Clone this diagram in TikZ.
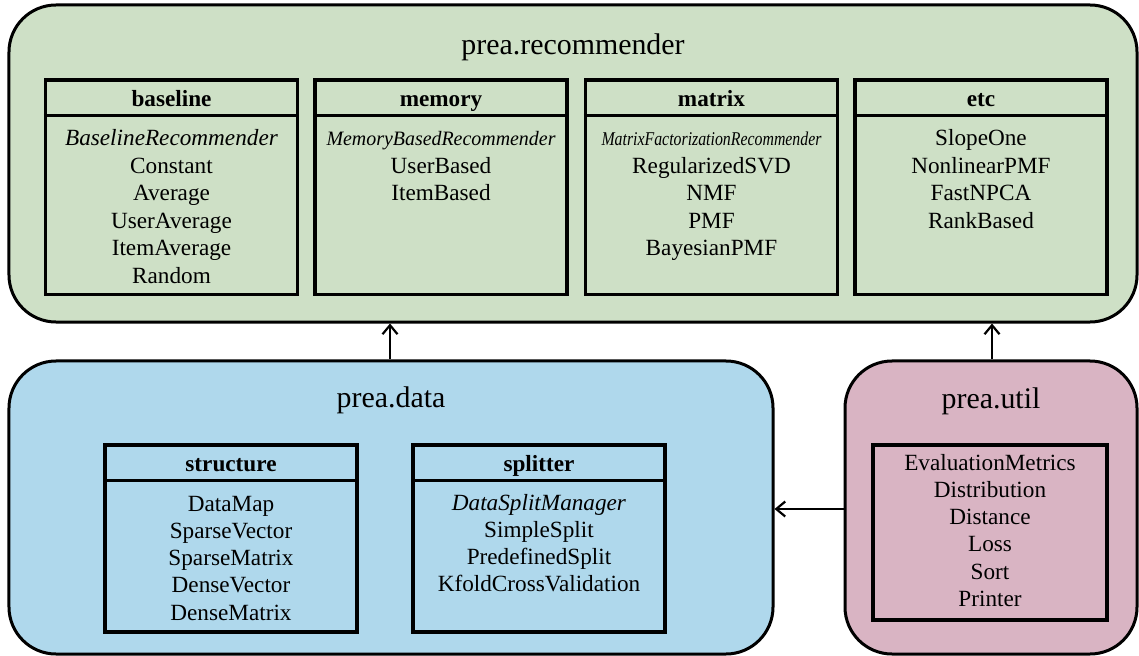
\documentclass[tikz,border=0pt]{standalone}
\usepackage{fontspec}
\setmainfont{Liberation Serif}
\usetikzlibrary{arrows.meta}
\definecolor{recgreen}{RGB}{206,224,198}
\definecolor{datablue}{RGB}{175,216,236}
\definecolor{utilpink}{RGB}{217,180,195}
\begin{document}
\begin{tikzpicture}[x=1bp,y=-1bp,
  pkg/.style={draw=black, line width=3bp, rounded corners=47bp, inner sep=0pt},
  cls/.style={draw=black, line width=3.2bp, inner sep=0pt, minimum width=252bp},
  sep/.style={line width=3bp},
  hdr/.style={font=\fontsize{23.3}{27.7}\selectfont\bfseries, inner sep=0pt, anchor=base},
  itemsR/.style={font=\fontsize{23.3}{27.7}\selectfont, inner sep=0pt, anchor=base},
  itemsD/.style={font=\fontsize{23.3}{27.4}\selectfont, inner sep=0pt, anchor=base},
  ttl/.style={font=\fontsize{30}{36}\selectfont, inner sep=0pt, anchor=base},
  dep/.style={line width=2.2bp, -{Straight Barb[length=9bp,width=15bp]}}]
\useasboundingbox (0,0) rectangle (1139,656);

% packages
\node[pkg, fill=recgreen, minimum width=1128bp, minimum height=317bp] (rec) at (573,163.5) {};
\node[pkg, fill=datablue, minimum width=764bp, minimum height=293bp] (data) at (391,507.5) {};
\node[pkg, fill=utilpink, minimum width=292bp, minimum height=293bp] (util) at (991,507.5) {};

\node[ttl] (rect) at (573,55) {prea.recommender};
\node[ttl] (datat) at (391,407.5) {prea.data};
\node[ttl] (utilt) at (991,408) {prea.util};

% prea.recommender classes
\node[cls, minimum height=214.5bp] (baseline) at (171.5,187.25) {};
\node[cls, minimum height=214.5bp] (memory) at (441,187.25) {};
\node[cls, minimum height=214.5bp] (matrix) at (711.5,187.25) {};
\node[cls, minimum height=214.5bp] (etc) at (981,187.25) {};
\foreach \c in {baseline,memory,matrix,etc}
  \draw[sep] ([yshift=-37bp]\c.north west) -- ([yshift=-37bp]\c.north east);

\node[hdr] (baselineh) at (171.5,106.5) {baseline};
\node[hdr] (memoryh) at (441,106.5) {memory};
\node[hdr] (matrixh) at (711.5,106.5) {matrix};
\node[hdr] (etch) at (981,106.5) {etc};

\node[itemsR] (baselinel) at (171.5,145.5) {\begin{tabular}[t]{@{}c@{}}
  \textit{BaselineRecommender}\\ Constant\\ Average\\ UserAverage\\ ItemAverage\\ Random\end{tabular}};
\node[itemsR] (memoryl) at (441,145.5) {\begin{tabular}[t]{@{}c@{}}
  \resizebox{229bp}{0.88\height}{\itshape MemoryBasedRecommender}\\ UserBased\\ ItemBased\end{tabular}};
\node[itemsR] (matrixl) at (711.5,145.5) {\begin{tabular}[t]{@{}c@{}}
  \resizebox{220bp}{0.84\height}{\itshape MatrixFactorizationRecommender}\\ RegularizedSVD\\ NMF\\ PMF\\ BayesianPMF\end{tabular}};
\node[itemsR] (etcl) at (981,145.5) {\begin{tabular}[t]{@{}c@{}}
  SlopeOne\\ NonlinearPMF\\ FastNPCA\\ RankBased\end{tabular}};

% prea.data classes
\node[cls, minimum height=187bp] (structure) at (231,538.5) {};
\node[cls, minimum height=187bp] (splitter) at (539,538.5) {};
\foreach \c in {structure,splitter}
  \draw[sep] ([yshift=-37bp]\c.north west) -- ([yshift=-37bp]\c.north east);
\node[hdr] (structureh) at (231,471.5) {structure};
\node[hdr] (splitterh) at (539,471.5) {splitter};
\node[itemsD] (structurel) at (231,511) {\begin{tabular}[t]{@{}c@{}}
  DataMap\\ SparseVector\\ SparseMatrix\\ DenseVector\\ DenseMatrix\end{tabular}};
\node[itemsD] (splitterl) at (539,510) {\begin{tabular}[t]{@{}c@{}}
  \textit{DataSplitManager}\\ SimpleSplit\\ PredefinedSplit\\ KfoldCrossValidation\end{tabular}};

% prea.util classes
\node[cls, minimum width=234bp, minimum height=175bp] (utilbox) at (990,532.5) {};
\node[itemsD] (utill) at (990,470) {\begin{tabular}[t]{@{}c@{}}
  EvaluationMetrics\\ Distribution\\ Distance\\ Loss\\ Sort\\ Printer\end{tabular}};

% dependencies
\coordinate (dcol) at (390,0);
\coordinate (ucol) at (992,0);
\coordinate (urow) at (0,509);
\draw[dep] (data.north -| dcol) -- (rec.south -| dcol);
\draw[dep] (util.north -| ucol) -- (rec.south -| ucol);
\draw[dep] (util.west |- urow) -- (data.east |- urow);
\end{tikzpicture}
\end{document}
